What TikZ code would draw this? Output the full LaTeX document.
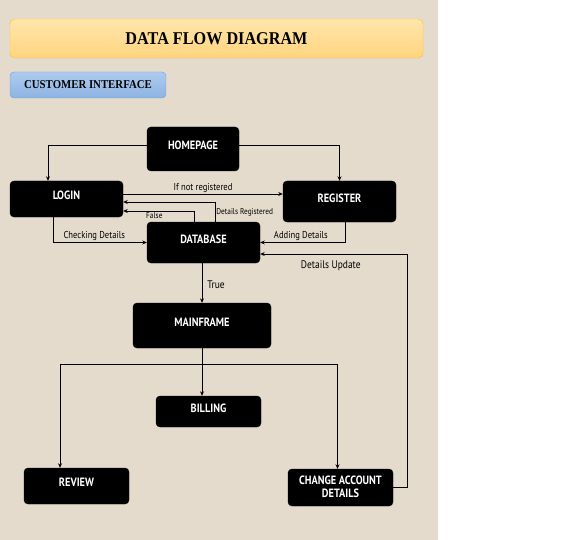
\documentclass[tikz,border=0pt]{standalone}
\usepackage{fontspec}
\setmainfont{Liberation Serif}
\newfontfamily\boxfont[FakeStretch=0.86]{PT Sans}
\newfontfamily\headfont[FakeStretch=0.9]{Liberation Serif}
\usetikzlibrary{arrows.meta}
\definecolor{paper}{HTML}{E4DBCD}
\definecolor{titletop}{HTML}{FFE6AC}
\definecolor{titlebot}{HTML}{FFD47E}
\definecolor{titleline}{HTML}{FFC21A}
\definecolor{subtop}{HTML}{AECBEF}
\definecolor{subbot}{HTML}{8DB3E2}
\definecolor{subline}{HTML}{6A9FD8}
\begin{document}
\begin{tikzpicture}[x=1pt,y=-1pt,
    proc/.style={draw=black,fill=black,rounded corners=4pt,text=white,inner sep=0pt,
      align=center,text depth=7.5pt,font=\boxfont\bfseries\fontsize{12}{13}\selectfont},
    flow/.style={-{Stealth[length=4.5pt,width=4pt]},line width=0.8pt},
    lbl/.style={inner sep=1pt,font=\boxfont\fontsize{10}{11}\selectfont},
    tiny/.style={inner sep=1pt,font=\boxfont\fontsize{8.5}{9}\selectfont}]
  \useasboundingbox (0,0) rectangle (567,540);
  \fill[white] (0,0) rectangle (567,540);
  \fill[paper] (0,0) rectangle (438,540);
  \node[draw=titleline,top color=titletop,bottom color=titlebot,rounded corners=5pt,
    minimum width=413pt,minimum height=39pt,inner sep=0pt,
    font=\headfont\bfseries\fontsize{18}{20}\selectfont] (title) at (216.5,38.5) {DATA FLOW DIAGRAM};
  \node[draw=subline,top color=subtop,bottom color=subbot,rounded corners=4pt,
    minimum width=156pt,minimum height=26pt,inner sep=0pt,
    font=\headfont\bfseries\fontsize{12}{13}\selectfont] (customer) at (88,85) {CUSTOMER INTERFACE};
  \node[proc,minimum width=92pt,minimum height=44pt] (homepage) at (193,149) {HOMEPAGE};
  \node[proc,minimum width=113pt,minimum height=36pt] (login) at (66.5,199) {LOGIN};
  \node[proc,minimum width=113pt,minimum height=41pt] (register) at (339.5,201.5) {REGISTER};
  \node[proc,minimum width=113pt,minimum height=41pt] (database) at (203.5,242.5) {DATABASE};
  \node[proc,minimum width=138pt,minimum height=45pt] (mainframe) at (202,325.5) {MAINFRAME};
  \node[proc,minimum width=105pt,minimum height=31pt] (billing) at (208.5,411.5) {BILLING};
  \node[proc,minimum width=105pt,minimum height=36pt] (review) at (76.5,486) {REVIEW};
  \node[proc,minimum width=105pt,minimum height=37pt,text depth=2pt] (change) at (340.5,487.5) {CHANGE ACCOUNT\\DETAILS};
  \coordinate (split) at ([yshift=-16pt]mainframe.south);
  \draw[flow] ([yshift=4pt]homepage.west) -| ([xshift=-18.5pt]login.north);
  \draw[flow] ([yshift=4pt]homepage.east) -| (register.north);
  \draw[flow] ([yshift=5pt]login.east) -- node[lbl,above]{If not registered} ([yshift=5pt]login.east -| register.west);
  \draw[flow] ([xshift=11.5pt]database.north) |- node[tiny,right,pos=0.25]{Details Registered} ([yshift=-3pt]login.east);
  \draw[flow] ([xshift=-9.5pt]database.north) |- node[tiny,below,pos=0.78]{False} ([yshift=-12pt]login.east);
  \draw[flow] ([xshift=-13.5pt]login.south) |- node[lbl,above,pos=0.72]{Checking Details} (database.west);
  \draw[flow] ([xshift=5.5pt]register.south) |- node[lbl,above,pos=0.76]{Adding Details} (database.east);
  \draw[flow] (change.east) -- ++(14,0) |- node[lbl,below=5pt,pos=0.76,font=\boxfont\fontsize{11}{12}\selectfont]{Details Update} ([yshift=-11.5pt]database.east);
  \draw[flow] (mainframe.north |- database.south) -- node[lbl,right=4pt,pos=0.55,font=\boxfont\fontsize{11}{12}\selectfont]{True} (mainframe.north);
  \draw[line width=0.8pt] (mainframe.south) -- (split);
  \draw[flow] (split) -| ([xshift=-16.5pt]review.north);
  \draw[flow] (split) -| ([xshift=-3pt]change.north);
  \draw[flow] (split) -- (split |- billing.north);
\end{tikzpicture}
\end{document}
